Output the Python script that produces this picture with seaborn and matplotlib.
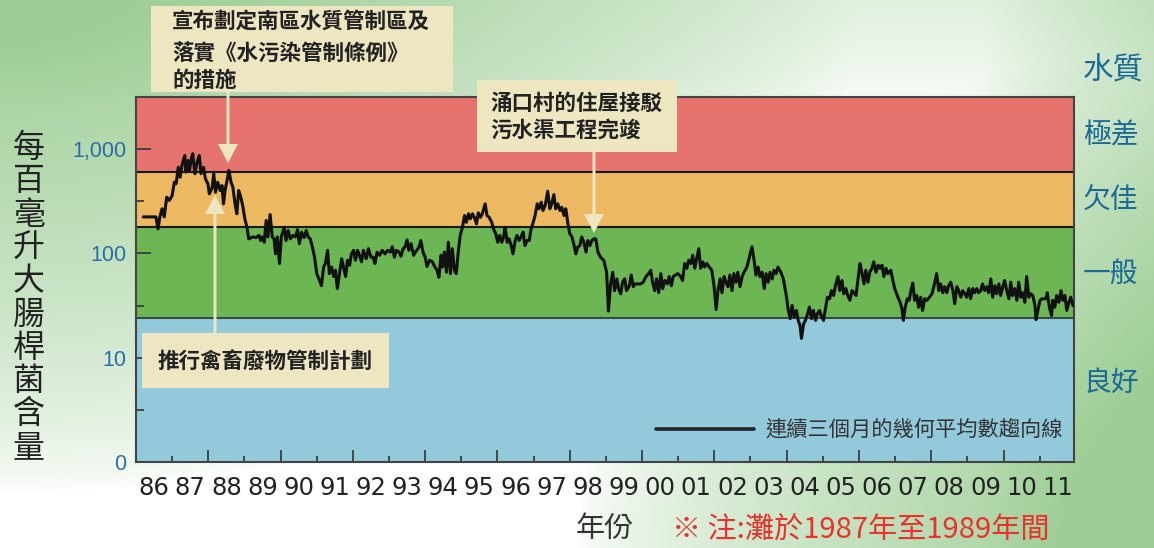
import numpy as np
import matplotlib
matplotlib.use("Agg")
import matplotlib.pyplot as plt
from matplotlib.patches import Rectangle, FancyArrow
from matplotlib.lines import Line2D
from matplotlib.ticker import FixedLocator, NullFormatter
import seaborn as sns

# ---- data (3-month geometric mean, E. coli per 100 mL) ----
years = [
    1986.20, 1986.55, 1986.61, 1986.66, 1986.72, 1986.78, 1986.85, 1986.92, 1987.00, 1987.06,
    1987.11, 1987.17, 1987.22, 1987.27, 1987.35, 1987.38, 1987.44, 1987.48, 1987.53, 1987.57,
    1987.63, 1987.68, 1987.75, 1987.80, 1987.87, 1987.92, 1987.99, 1988.03, 1988.11, 1988.15,
    1988.20, 1988.26, 1988.33, 1988.38, 1988.42, 1988.47, 1988.51, 1988.57, 1988.63, 1988.68,
    1988.74, 1988.79, 1988.84, 1988.90, 1988.96, 1989.01, 1989.07, 1989.12, 1989.23, 1989.32,
    1989.40, 1989.45, 1989.49, 1989.55, 1989.60, 1989.65, 1989.71, 1989.77, 1989.82, 1989.86,
    1989.91, 1989.97, 1990.02, 1990.10, 1990.15, 1990.21, 1990.27, 1990.34, 1990.41, 1990.47,
    1990.52, 1990.58, 1990.65, 1990.71, 1990.76, 1990.82, 1990.88, 1990.94, 1991.00, 1991.08,
    1991.13, 1991.19, 1991.24, 1991.30, 1991.35, 1991.41, 1991.47, 1991.52, 1991.57, 1991.63,
    1991.69, 1991.74, 1991.80, 1991.85, 1991.91, 1991.96, 1992.02, 1992.07, 1992.13, 1992.18,
    1992.24, 1992.29, 1992.37, 1992.43, 1992.50,
    1992.56, 1992.61, 1992.67, 1992.74, 1992.81, 1992.89, 1992.96, 1993.04, 1993.09, 1993.15,
    1993.20, 1993.28, 1993.33, 1993.39, 1993.44, 1993.50, 1993.55, 1993.61, 1993.68, 1993.73,
    1993.83, 1993.88, 1993.94, 1994.00, 1994.05, 1994.12, 1994.20, 1994.27, 1994.33, 1994.38,
    1994.44, 1994.48, 1994.53, 1994.59, 1994.64, 1994.70, 1994.75, 1994.81, 1994.86, 1994.92,
    1994.97, 1995.03, 1995.09, 1995.14, 1995.20, 1995.25, 1995.31, 1995.36, 1995.42, 1995.47,
    1995.53, 1995.58, 1995.66, 1995.71, 1995.77, 1995.84, 1995.89, 1995.95, 1996.01, 1996.06,
    1996.12, 1996.17, 1996.21, 1996.27, 1996.32, 1996.38, 1996.43, 1996.49, 1996.54, 1996.60,
    1996.65, 1996.71, 1996.76, 1996.82, 1996.88, 1996.93, 1996.99, 1997.04, 1997.10, 1997.15,
    1997.21, 1997.26, 1997.32, 1997.39, 1997.45, 1997.50, 1997.56, 1997.61, 1997.67, 1997.73,
    1997.78, 1997.84, 1997.89, 1997.95, 1998.00, 1998.06, 1998.11, 1998.17, 1998.22, 1998.28,
    1998.33, 1998.39, 1998.45, 1998.50, 1998.56, 1998.61, 1998.67, 1998.72, 1998.78, 1998.85,
    1998.94, 1999.02, 1999.07, 1999.13, 1999.19, 1999.24, 1999.30, 1999.35, 1999.41, 1999.46,
    1999.52, 1999.57, 1999.65, 1999.70, 1999.76, 1999.81, 1999.96, 2000.03, 2000.11, 2000.18,
    2000.24, 2000.29, 2000.35, 2000.40, 2000.46, 2000.52, 2000.57, 2000.63, 2000.70, 2000.75,
    2000.81, 2000.86, 2000.92, 2000.99, 2001.07, 2001.12, 2001.18, 2001.24, 2001.29, 2001.35,
    2001.40, 2001.46, 2001.51, 2001.57, 2001.62, 2001.68, 2001.73, 2001.79, 2001.86, 2001.93,
    2001.99, 2002.05, 2002.10, 2002.16, 2002.21, 2002.27, 2002.32, 2002.38, 2002.43, 2002.49,
    2002.54, 2002.60, 2002.65, 2002.71, 2002.77, 2002.82, 2002.90, 2002.97, 2003.04, 2003.10,
    2003.15, 2003.21, 2003.26, 2003.32, 2003.38, 2003.43, 2003.49, 2003.54, 2003.60, 2003.65,
    2003.71, 2003.76, 2003.84, 2003.91, 2003.99, 2004.04, 2004.10, 2004.15, 2004.21, 2004.27,
    2004.32, 2004.37, 2004.41, 2004.47, 2004.52, 2004.58, 2004.63, 2004.69, 2004.74, 2004.80,
    2004.85, 2004.91, 2004.97, 2005.02, 2005.08, 2005.13, 2005.19, 2005.24, 2005.30, 2005.35,
    2005.42, 2005.47, 2005.53, 2005.58, 2005.64, 2005.69, 2005.75, 2005.81, 2005.86, 2005.92,
    2005.97, 2006.03, 2006.08, 2006.14, 2006.19, 2006.25, 2006.30, 2006.36, 2006.41, 2006.47,
    2006.53, 2006.58, 2006.64, 2006.69, 2006.75, 2006.80, 2006.88, 2006.93, 2006.99, 2007.06,
    2007.14, 2007.19, 2007.23, 2007.28, 2007.34, 2007.39, 2007.45, 2007.49, 2007.54, 2007.60,
    2007.65, 2007.71, 2007.76, 2007.82, 2007.88, 2007.95, 2008.02, 2008.09, 2008.15, 2008.21,
    2008.26, 2008.32, 2008.37, 2008.43, 2008.48, 2008.54, 2008.60, 2008.65, 2008.71, 2008.76,
    2008.82, 2008.87, 2008.93, 2008.98, 2009.04, 2009.09, 2009.15, 2009.20, 2009.26, 2009.31,
    2009.37, 2009.42, 2009.48, 2009.54, 2009.59, 2009.65, 2009.70, 2009.76, 2009.81, 2009.87,
    2009.92, 2009.98, 2010.03, 2010.09, 2010.15, 2010.20, 2010.25, 2010.31, 2010.37, 2010.42,
    2010.48, 2010.53, 2010.59, 2010.64, 2010.70, 2010.75, 2010.81, 2010.87, 2010.90, 2010.96,
    2011.01, 2011.07, 2011.12, 2011.18, 2011.21, 2011.27, 2011.33, 2011.36, 2011.42, 2011.47,
    2011.53, 2011.59, 2011.64, 2011.70, 2011.75, 2011.81, 2011.86, 2011.92, 2011.97,
]
counts = [
    224, 224, 172, 224, 268, 224, 346, 322, 359, 482,
    465, 670, 538, 695, 871, 602, 778, 625, 808, 904,
    581, 721, 871, 581, 670, 519, 465, 373, 432, 581,
    386, 482, 401, 448, 299, 416, 482, 625, 482, 432,
    299, 240, 401, 346, 277, 215, 178, 138, 144, 142,
    149, 133, 144, 128, 207, 144, 236, 144, 138, 99,
    144, 80, 144, 178, 133, 166, 138, 149, 144, 169,
    124, 160, 142, 166, 144, 138, 115, 92, 64, 55,
    49, 74, 80, 107, 64, 74, 60, 69, 46, 64,
    89, 74, 60, 86, 77, 99, 107, 86, 107, 96,
    83, 107, 89, 111, 92,
    92, 80, 103, 96, 107, 99, 107, 103, 116, 92,
    107, 103, 94, 111, 115, 135, 107, 124, 96, 103,
    115, 133, 103, 92, 75, 86, 83, 74, 69, 59,
    96, 74, 103, 66, 128, 64, 111, 69, 64, 107,
    149, 178, 231, 199, 240, 215, 240, 222, 192, 245,
    222, 240, 299, 231, 222, 199, 172, 155, 128, 149,
    128, 144, 178, 128, 138, 119, 99, 133, 149, 133,
    144, 160, 119, 133, 133, 172, 199, 231, 299, 268,
    310, 258, 288, 395, 268, 299, 367, 268, 299, 258,
    277, 231, 268, 192, 155, 144, 124, 99, 115, 119,
    144, 128, 103, 133, 119, 133, 138, 138, 103, 92,
    86, 66, 28, 51, 66, 44, 57, 46, 41, 53,
    57, 44, 49, 62, 48, 51, 51, 53, 60, 64,
    69, 53, 44, 57, 42, 64, 46, 55, 51, 60,
    49, 60, 62, 64, 60, 55, 80, 72, 86, 80,
    96, 72, 89, 111, 72, 83, 74, 80, 74, 69,
    49, 29, 44, 57, 42, 60, 53, 48, 62, 44,
    64, 53, 66, 48, 60, 66, 74, 92, 116, 86,
    62, 74, 60, 66, 46, 64, 53, 66, 57, 69,
    64, 74, 66, 57, 39.5, 29.5, 23.7, 31.7, 24.5, 28.4,
    22.8, 20.4, 15.3, 21.2, 22.8, 26.4, 30.5, 23.7, 28.4, 22.8,
    26.4, 28.4, 24.5, 22.8, 30.5, 38, 36.8, 44, 39.5, 49,
    60, 44, 55, 41, 46, 39.5, 35.5, 44, 42, 39.5,
    55, 80, 66, 51, 69, 53, 66, 72, 83, 66,
    77, 72, 77, 60, 72, 64, 69, 57, 46, 39.5,
    34, 29.5, 22.8, 30.5, 36.8, 35.5, 46, 52, 35.5, 39.5,
    30.5, 38, 28.4, 36.8, 35.5, 38, 41, 51, 64, 44,
    51, 42, 48, 42, 49, 53, 44, 33, 48, 44,
    38, 44, 41, 38, 46, 36.8, 46, 42, 46, 42,
    44, 51, 44, 48, 42, 57, 38, 49, 41, 51,
    39.5, 48, 55, 44, 36.8, 53, 39.5, 46, 35.5, 53,
    38, 42, 34, 60, 38, 41, 39.5, 31.7, 23.2, 29.5,
    35.5, 36.8, 36.8, 36.8, 42, 30.5, 25.4, 35.5, 30.5, 39.5,
    34, 44, 35.5, 39.5, 28.4, 34, 38, 31.7, 31.7,
]

# water-quality grade limits (per 100 mL) and band colours
band_edges = [1, 24, 180, 610, 10 ** 3.5]
band_colors = ['#92CADC', '#6CB653', '#ECB862', '#E6736E']
grade_labels = ['水質', '極差', '欠佳', '一般', '良好']
year_labels = [f'{y % 100:02d}' for y in range(1986, 2012)]
ytick_vals = [1, 10, 100, 1000]
ytick_labels = ['0', '10', '100', '1,000']

sns.set_style("white")
plt.rcParams['font.family'] = ['Noto Sans CJK TC', 'DejaVu Sans']

W, H = 1154, 548
fig = plt.figure(figsize=(W / 100, H / 100), dpi=100)

# soft green background
bg = fig.add_axes([0, 0, 1, 1], zorder=0)
gx, gy = np.meshgrid(np.linspace(0, 1, W), np.linspace(0, 1, H))
w_tl = np.clip(1 - np.sqrt((gx / 0.75) ** 2 + (gy / 0.9) ** 2), 0, 1)
w_br = np.clip(1 - np.sqrt(((1 - gx) / 0.5) ** 2 + ((1 - gy) / 0.9) ** 2), 0, 1)
w_r = np.clip((gx - 0.85) / 0.15, 0, 1) * 0.35
w_top = np.clip(1 - gy / 0.2, 0, 1) * 0.15
w = np.clip(w_tl + w_br + w_r + w_top, 0, 1) ** 0.65
green = np.array([158, 206, 150]) / 255
img = (1 - w)[..., None] * np.ones(3) + w[..., None] * green
bg.imshow(img, aspect='auto', extent=[0, W, H, 0])
bg.set_xlim(0, W)
bg.set_ylim(H, 0)
bg.axis('off')

# main chart
ax = fig.add_axes([136 / W, 1 - 462 / H, (1074 - 136) / W, (462 - 97) / H], zorder=2)
for lo, hi, c in zip(band_edges[:-1], band_edges[1:], band_colors):
    ax.axhspan(lo, hi, color=c, lw=0, zorder=0)
for b, c in zip(band_edges[1:4], ['#3A4848', '#1A1A1A', '#1A1A1A']):
    ax.axhline(b, color=c, lw=1.5, zorder=1)

sns.lineplot(x=years, y=counts, ax=ax, color='#111111', linewidth=2.2,
             sort=False, estimator=None, zorder=3)

ax.set_yscale('log')
ax.set_ylim(1, 10 ** 3.5)
ax.set_xlim(1986, 2011.95)

ax.yaxis.set_major_locator(FixedLocator(ytick_vals))
ax.set_yticklabels(ytick_labels)
ax.yaxis.set_minor_locator(FixedLocator([10 ** 0.5, 10 ** 1.5, 10 ** 2.5]))
ax.yaxis.set_minor_formatter(NullFormatter())
ax.tick_params(axis='y', which='major', direction='in', length=11, width=1.2,
               color='#333333', labelsize=15.5, labelcolor='#2A6EAA', pad=7, left=True)
ax.tick_params(axis='y', which='minor', direction='in', length=6, width=1.2,
               color='#333333', left=True)
for lab in ax.get_yticklabels():
    lab.set_fontfamily(['Liberation Sans', 'DejaVu Sans'])

ax.xaxis.set_major_locator(FixedLocator(list(range(1986, 2012, 2))))
ax.xaxis.set_minor_locator(FixedLocator(list(range(1987, 2012, 2))))
ax.tick_params(axis='x', which='major', direction='in', length=9, width=1.2,
               color='#333333', labelbottom=False, bottom=True)
ax.tick_params(axis='x', which='minor', direction='in', length=4, width=1.2,
               color='#333333', bottom=True)

sec = ax.secondary_xaxis('bottom')
sec.set_xticks(np.arange(1986, 2012) + 0.5)
sec.set_xticklabels(year_labels)
sec.tick_params(length=0, pad=10, labelsize=17.5, labelcolor='#222222')
sec.spines['bottom'].set_visible(False)
for lab in sec.get_xticklabels():
    lab.set_fontfamily(['Liberation Sans Narrow', 'DejaVu Sans'])

for s in ax.spines.values():
    s.set_color('#444444')
    s.set_linewidth(1.5)

handle = Line2D([], [], color='#222222', lw=2.6)
ax.legend([handle], ['連續三個月的幾何平均數趨向線'], loc='center left',
          bbox_to_anchor=((656 - 136) / 938, 32 / 365), frameon=False,
          borderpad=0, borderaxespad=0, handlelength=4.6, handletextpad=0.55,
          prop={'size': 15.3}, labelcolor='#333333')

# overlay in pixel coordinates for labels and callouts
ov = fig.add_axes([0, 0, 1, 1], zorder=5)
ov.set_xlim(0, W)
ov.set_ylim(H, 0)
ov.axis('off')
ov.patch.set_alpha(0)

box_c = '#EDE6C1'
ov.add_patch(Rectangle((151, 6), 302, 86, fc=box_c, ec='none'))
ov.add_patch(Rectangle((477, 80), 200, 72, fc=box_c, ec='none'))
ov.add_patch(Rectangle((142, 333), 247, 55, fc=box_c, ec='none'))
ov.add_patch(FancyArrow(228, 92, 0, 71, width=3, head_width=20, head_length=19,
                        length_includes_head=True, fc=box_c, ec='none'))
ov.add_patch(FancyArrow(594, 152, 0, 81, width=3, head_width=20, head_length=19,
                        length_includes_head=True, fc=box_c, ec='none'))
ov.add_patch(FancyArrow(215, 333, 0, -138, width=3, head_width=20, head_length=19,
                        length_includes_head=True, fc=box_c, ec='none'))

note_kw = dict(fontsize=15.5, fontweight='bold', color='#222222', va='center', ha='left')
ov.text(172, 21, '宣布劃定南區水質管制區及', **note_kw)
ov.text(172, 53, '落實《水污染管制條例》', **note_kw)
ov.text(172, 80, '的措施', **note_kw)
ov.text(490, 103, '涌口村的住屋接駁', **note_kw)
ov.text(490, 130, '污水渠工程完竣', **note_kw)
ov.text(158, 361, '推行禽畜廢物管制計劃', **note_kw)

# grade labels on the right
grade_y = [70, 135, 200, 275, 383]
for i, (lab, yy) in enumerate(zip(grade_labels, grade_y)):
    ov.text(1083, yy, lab, fontsize=22 if i == 0 else 20, color='#1A6A97',
            va='center', ha='left')

# stacked vertical y-axis title
for i, ch in enumerate('每百毫升大腸桿菌含量'):
    ov.text(29, 148 + i * 33.3, ch, fontsize=23, color='#222222', va='center', ha='center')

ov.text(605, 529, '年份', fontsize=21, color='#333333', va='center', ha='center')
ov.text(672, 546, '※ 注:灘於1987年至1989年間', fontsize=21, color='#E8322B',
        va='bottom', ha='left', fontweight='light')

fig.savefig('out.png', dpi=100)
